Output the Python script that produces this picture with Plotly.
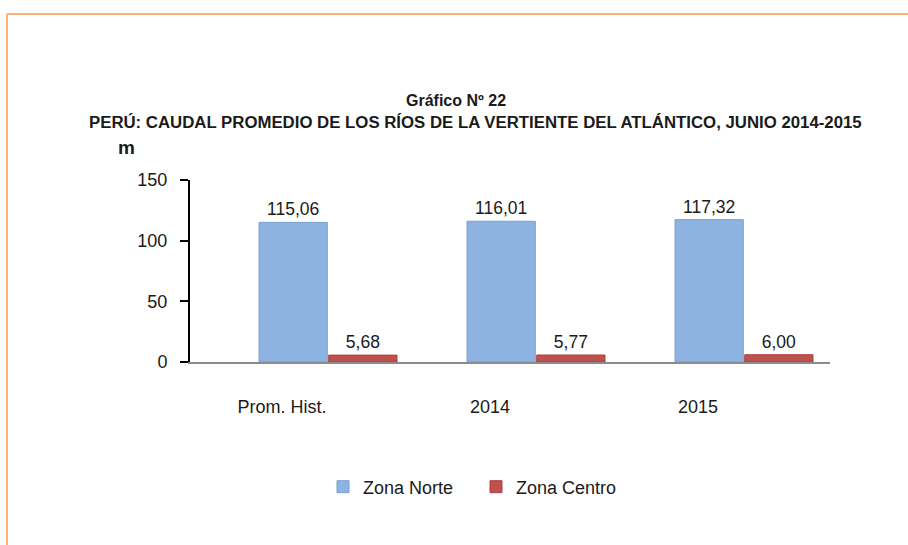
import plotly.graph_objects as go

categories = ["Prom. Hist.", "2014", "2015"]
zona_norte = [115.06, 116.01, 117.32]
zona_centro = [5.68, 5.77, 6.00]
y_ticks = [0, 50, 100, 150]

def fmt(v):
    return f"{v:.2f}".replace(".", ",")

W, H = 908, 545
L, R, T, B = 190, 78, 180, 183
PW, PH = W - L - R, H - T - B

def px(x):
    return (x - L) / PW

def py(y):
    return (H - B - y) / PH

# category axis: centre of first group at ~328px, spacing ~208px
step = 208.0
r0 = -(328 - L) / step
r1 = r0 + PW / step

FONT = "Liberation Sans, Arial"

fig = go.Figure()
fig.add_trace(go.Bar(
    name="Zona Norte", x=categories, y=zona_norte,
    marker=dict(color="#8DB3E2", line=dict(color="#7A9FCF", width=1)),
    text=[fmt(v) for v in zona_norte], textposition="outside",
    textfont=dict(size=17.5, color="#1a1a1a", family=FONT),
    cliponaxis=False,
))
fig.add_trace(go.Bar(
    name="Zona Centro", x=categories, y=zona_centro,
    marker=dict(color="#C0504D", line=dict(color="#A8403D", width=1)),
    text=[fmt(v) for v in zona_centro], textposition="outside",
    textfont=dict(size=17.5, color="#1a1a1a", family=FONT),
    cliponaxis=False,
))

fig.update_layout(
    width=W, height=H,
    margin=dict(l=L, r=R, t=T, b=B),
    paper_bgcolor="white", plot_bgcolor="white",
    barmode="group", bargap=0.33, bargroupgap=0.02,
    font=dict(family=FONT, size=17, color="#1a1a1a"),
    showlegend=True,
    legend=dict(orientation="h", x=px(323), xanchor="left", y=py(487), yanchor="middle",
                font=dict(size=18, color="#1a1a1a"), itemwidth=30,
                entrywidth=108, entrywidthmode="pixels",
                traceorder="normal"),
    xaxis=dict(type="category", range=[r0, r1],
               showline=True, linecolor="#8c8c8c", linewidth=2, ticks="",
               tickfont=dict(size=18, color="#1a1a1a"), ticklabelstandoff=27,
               ticklabelshift=-46),
    yaxis=dict(range=[0, 150], tickvals=y_ticks, showgrid=False, zeroline=False,
               showline=True, linecolor="#000000", linewidth=2,
               ticks="outside", ticklen=8, tickwidth=2, tickcolor="#000000",
               ticklabelstandoff=9,
               tickfont=dict(size=18, color="#1a1a1a")),
    shapes=[
        dict(type="line", xref="paper", yref="paper",
             x0=px(7), x1=px(W), y0=py(14), y1=py(14),
             line=dict(color="#FBB27C", width=2)),
        dict(type="line", xref="paper", yref="paper",
             x0=px(7), x1=px(7), y0=py(14), y1=py(H),
             line=dict(color="#FBB27C", width=2)),
    ],
    annotations=[
        dict(text="<b>Gráfico Nº 22</b>", xref="paper", yref="paper",
             x=px(456), y=py(100), xanchor="center", yanchor="middle", showarrow=False,
             font=dict(size=16, family=FONT, color="#1a1a1a")),
        dict(text="<b>PERÚ: CAUDAL PROMEDIO DE LOS RÍOS DE LA VERTIENTE DEL ATLÁNTICO, JUNIO 2014-2015</b>",
             xref="paper", yref="paper",
             x=px(475), y=py(122), xanchor="center", yanchor="middle", showarrow=False,
             font=dict(size=16.8, family=FONT, color="#1a1a1a")),
        dict(text="<b>m</b>", xref="paper", yref="paper",
             x=px(126), y=py(147), xanchor="center", yanchor="middle", showarrow=False,
             font=dict(size=19, color="#1a1a1a")),
    ],
)

fig.write_html("out.html", config={"displayModeBar": False},
               post_script="document.body.style.margin='0px';")
